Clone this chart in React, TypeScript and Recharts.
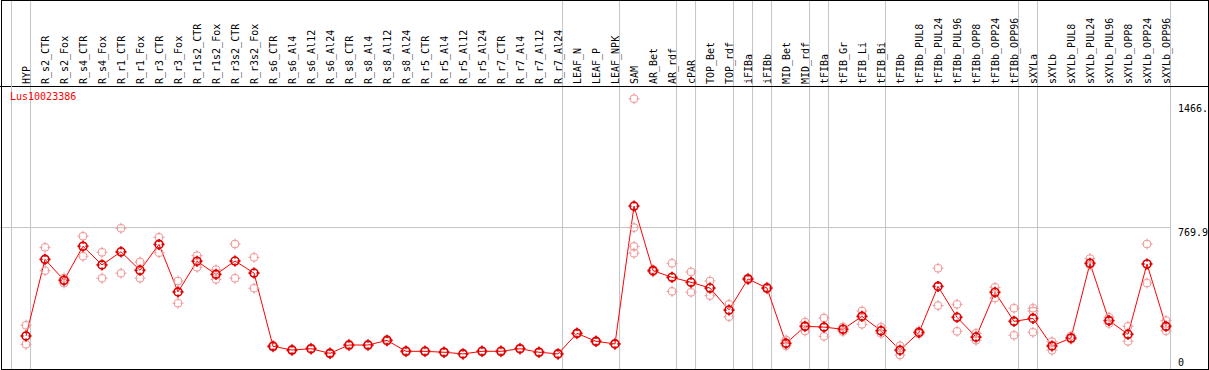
import { ComposedChart, Line, ReferenceLine, XAxis, YAxis } from 'recharts';

const title = 'Lus10023386';

const categories = [
    'HYP', 'R_s2_CTR', 'R_s2_Fox', 'R_s4_CTR', 'R_s4_Fox', 'R_r1_CTR', 'R_r1_Fox', 'R_r3_CTR', 'R_r3_Fox',
    'R_r1s2_CTR', 'R_r1s2_Fox', 'R_r3s2_CTR', 'R_r3s2_Fox', 'R_s6_CTR', 'R_s6_Al4', 'R_s6_Al12', 'R_s6_Al24',
    'R_s8_CTR', 'R_s8_Al4', 'R_s8_Al12', 'R_s8_Al24', 'R_r5_CTR', 'R_r5_Al4', 'R_r5_Al12', 'R_r5_Al24',
    'R_r7_CTR', 'R_r7_Al4', 'R_r7_Al12', 'R_r7_Al24', 'LEAF_N', 'LEAF_P', 'LEAF_NPK', 'SAM', 'AR_Bet', 'AR_rdf',
    'cPAR', 'TOP_Bet', 'TOP_rdf', 'iFIBa', 'iFIBb', 'MID_Bet', 'MID_rdf', 'tFIBa', 'tFIB_Gr', 'tFIB_Li', 'tFIB_Bi',
    'tFIBb', 'tFIBb_PUL8', 'tFIBb_PUL24', 'tFIBb_PUL96', 'tFIBb_OPP8', 'tFIBb_OPP24', 'tFIBb_OPP96', 'sXYLa',
    'sXYLb', 'sXYLb_PUL8', 'sXYLb_PUL24', 'sXYLb_PUL96', 'sXYLb_OPP8', 'sXYLb_OPP24', 'sXYLb_OPP96',
];

const means = [
    184, 598, 485, 669, 568, 639, 539, 679, 422, 588, 517, 589, 524, 128, 108, 115, 90, 135, 135, 160, 101, 101, 96,
    87, 101, 101, 115, 96, 87, 198, 155, 141, 886, 537, 501, 474, 443, 324, 492, 443, 144, 236, 232, 220, 290, 212,
    107, 203, 452, 285, 178, 420, 263, 279, 130, 173, 577, 267, 193, 573, 236,
];

const repA = [
    242, 663, 497, 723, 636, 766, 584, 717, 481, 618, 542, 681, 609, 133, 112, 119, 94, 140, 139, 165, 105, 104, 99,
    90, 104, 105, 118, 99, 90, 201, 158, 144, 1466, 543, 577, 530, 481, 355, 497, 448, 162, 259, 281, 232, 319, 231,
    131, 211, 550, 355, 198, 447, 334, 334, 153, 184, 602, 285, 236, 681, 267,
];

const repB = [
    184, 598, 485, 669, 568, 636, 539, 679, 422, 588, 517, 589, 524, 128, 108, 115, 90, 135, 135, 160, 101, 101, 96,
    87, 101, 101, 115, 96, 87, 198, 155, 141, 769.9, 537, 501, 474, 443, 324, 492, 443, 144, 236, 232, 220, 290, 212,
    107, 203, 452, 285, 178, 420, 263, 319, 130, 173, 577, 267, 193, 573, 236,
];

const repC = [
    139, 537, 470, 615, 496, 523, 496, 634, 361, 555, 490, 496, 442, 123, 104, 111, 86, 130, 131, 155, 97, 98, 93,
    84, 98, 97, 112, 93, 84, 195, 152, 138, 668, 531, 425, 420, 402, 288, 487, 438, 131, 211, 182, 208, 247, 198,
    81, 195, 348, 209, 161, 389, 188, 204, 107, 166, 568, 252, 155, 470, 212,
];

const repD: (number | null)[] = categories.map((name) => (name === 'SAM' ? 631 : null));

const yTicks = [0, 769.9, 1466];
const yTickLabels = ['0', '769.9', '1466.'];

// a grey separator is drawn right after these categories (plus one before the first)
const separatorsAfter = [
    'HYP', 'R_r7_Al24', 'LEAF_NPK', 'AR_rdf', 'cPAR', 'TOP_rdf', 'iFIBa', 'iFIBb', 'MID_rdf', 'tFIBa', 'tFIB_Bi',
    'tFIBb_OPP96', 'sXYLa', 'sXYLb_OPP96',
];

const data = categories.map((name, i) => ({
    i,
    name,
    mean: means[i],
    a: repA[i],
    b: repB[i],
    c: repC[i],
    d: repD[i],
}));

const font = '"DejaVu Sans Mono", monospace';
const step = 19;
const sepOffset = 0.24;
const xDomain = [-26 / step, (1209 - 26) / step];
const yDomain = [0, 2000];
const yShift = [-4, 8.4, 13.2];
const separators = separatorsAfter.map((n) => categories.indexOf(n));

function Marker({ cx, cy, color, width }: { cx?: number; cy?: number | null; color: string; width: number }) {
    if (cx == null || cy == null || Number.isNaN(cy)) {
        return <g />;
    }
    return (
        <g stroke={color} strokeWidth={width} fill="none">
            <circle cx={cx} cy={cy} r={4} />
            <line x1={cx} y1={cy - 5.5} x2={cx} y2={cy - 2.5} />
            <line x1={cx} y1={cy + 2.5} x2={cx} y2={cy + 5.5} />
            <line x1={cx - 5.5} y1={cy} x2={cx - 2.5} y2={cy} />
            <line x1={cx + 2.5} y1={cy} x2={cx + 5.5} y2={cy} />
        </g>
    );
}

function repDot(props: any) {
    return <Marker key={`${props.dataKey}-${props.index}`} cx={props.cx} cy={props.cy} color="#f09a9a" width={1} />;
}

function meanDot(props: any) {
    return <Marker key={`mean-${props.index}`} cx={props.cx} cy={props.cy} color="#e00000" width={1.6} />;
}

function CategoryTick({ x, payload }: any) {
    return (
        <text transform={`translate(${x + 3.5}, 84) rotate(-90)`} fontFamily={font} fontSize={10} fill="#000">
            {categories[payload.value]}
        </text>
    );
}

function ValueTick({ y, index }: any) {
    return (
        <text x={1178} y={y + yShift[index]} fontFamily={font} fontSize={10} fill="#000">
            {yTickLabels[index]}
        </text>
    );
}

export default function App() {
    return (
        <div style={{ position: 'relative', width: 1209, height: 370, overflow: 'hidden', background: '#fff' }}>
            <style>{'body { margin: 0; }'}</style>
            <ComposedChart width={1209} height={370} data={data} margin={{ top: 0, right: 0, bottom: 0, left: 0 }}>
                <XAxis
                    type="number"
                    dataKey="i"
                    orientation="top"
                    mirror
                    domain={xDomain}
                    ticks={categories.map((_, i) => i)}
                    interval={0}
                    height={20}
                    axisLine={false}
                    tickLine={false}
                    tick={<CategoryTick />}
                />
                <YAxis
                    type="number"
                    orientation="right"
                    mirror
                    domain={yDomain}
                    ticks={yTicks}
                    interval={0}
                    width={30}
                    axisLine={false}
                    tickLine={false}
                    tick={<ValueTick />}
                />
                {separators.map((idx) => (
                    <ReferenceLine
                        key={`sep-${idx}`}
                        x={idx + sepOffset}
                        stroke="#c4c4c4"
                        strokeWidth={1}
                        ifOverflow="visible"
                    />
                ))}
                <ReferenceLine
                    segment={[
                        { x: xDomain[0], y: yTicks[1] },
                        { x: categories.length - 1 + sepOffset, y: yTicks[1] },
                    ]}
                    stroke="#c4c4c4"
                    strokeWidth={1}
                />
                <ReferenceLine y={1532.4} stroke="#000" strokeWidth={1} />
                {(['a', 'b', 'c', 'd'] as const).map((key) => (
                    <Line
                        key={key}
                        dataKey={key}
                        stroke="none"
                        dot={repDot}
                        activeDot={false}
                        isAnimationActive={false}
                    />
                ))}
                <Line
                    type="linear"
                    dataKey="mean"
                    stroke="#ff0000"
                    strokeWidth={1}
                    dot={meanDot}
                    activeDot={false}
                    isAnimationActive={false}
                />
            </ComposedChart>
            <div
                style={{
                    position: 'absolute',
                    left: 11,
                    top: 0,
                    width: 1,
                    height: 370,
                    background: '#c4c4c4',
                    pointerEvents: 'none',
                }}
            />
            <div
                style={{
                    position: 'absolute',
                    left: 10,
                    top: 91.5,
                    fontFamily: font,
                    fontSize: 10,
                    lineHeight: '10px',
                    color: '#ff0000',
                    whiteSpace: 'nowrap',
                }}
            >
                {title}
            </div>
            <div
                style={{
                    position: 'absolute',
                    left: 1,
                    top: 0,
                    width: 1208,
                    height: 370,
                    boxSizing: 'border-box',
                    border: '1px solid #000',
                    pointerEvents: 'none',
                }}
            />
        </div>
    );
}
